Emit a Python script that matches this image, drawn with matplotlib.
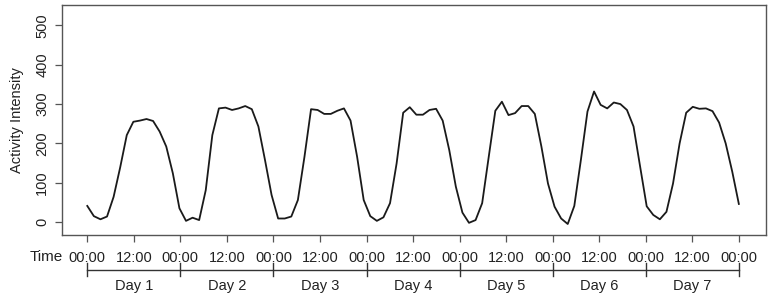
import numpy as np
import matplotlib
matplotlib.use("Agg")
import matplotlib.pyplot as plt

plt.rcParams['font.family'] = ['Liberation Sans', 'DejaVu Sans']

# Activity intensity, 100 samples spread evenly over 7 days
activity = [41, 15, 7, 14, 64, 139, 221, 255, 258, 262, 257, 230, 192, 124,
            35, 3, 11, 5, 81, 221, 289, 291, 285, 289, 295, 287, 243, 158, 69,
            9, 9, 14, 56, 166, 287, 285, 275, 275, 283, 289, 258, 166, 56,
            15, 3, 12, 48, 149, 278, 292, 273, 273, 285, 288, 258, 183, 90,
            24, -2, 5, 48, 166, 283, 306, 272, 277, 295, 295, 275, 192, 98,
            39, 9, -5, 41, 158, 281, 332, 298, 289, 304, 300, 285, 243, 141,
            40, 18, 7, 26, 98, 200, 278, 293, 288, 289, 282, 253, 200, 128, 46]
day_labels = ["Day 1", "Day 2", "Day 3", "Day 4", "Day 5", "Day 6", "Day 7"]
hour_ticks = list(range(0, 169, 12))
hour_labels = ["00:00" if h % 24 == 0 else "12:00" for h in hour_ticks]
y_ticks = [0, 100, 200, 300, 400, 500]

n_days = len(day_labels)
hours = np.linspace(0, 24 * n_days, len(activity))

fig = plt.figure(figsize=(7.71, 2.99), dpi=100)
ax = fig.add_axes([0.080, 0.214, 0.913, 0.768])

ax.plot(hours, activity, color='#1a1a1a', lw=1.3)

ax.set_xlim(-6.6, 174.9)
ax.set_ylim(-33, 551)

box_col = '#555555'
for s in ax.spines.values():
    s.set_color(box_col)
    s.set_linewidth(1.0)

ax.set_yticks(y_ticks)
ax.set_yticklabels([str(v) for v in y_ticks], rotation=90, va='center')
ax.set_xticks(hour_ticks)
ax.set_xticklabels(hour_labels)
ax.tick_params(axis='both', direction='out', length=5, width=0.9,
               color=box_col, labelsize=10.5, labelcolor='#222222')
ax.tick_params(axis='x', pad=6.5)
ax.tick_params(axis='y', pad=4)
ax.set_ylabel("Activity Intensity", fontsize=10.5, color='#222222', labelpad=8)

fig.text(46 / 771, 1 - 257 / 299, "Time", ha='center', va='center',
         fontsize=11, color='#222222')

# second row: day brackets under the time axis
tr = ax.get_xaxis_transform()
y_line = -0.152
ax.plot([0, 24 * n_days], [y_line, y_line], transform=tr, color='#333333',
        lw=1.0, clip_on=False)
for d in range(n_days + 1):
    ax.plot([24 * d, 24 * d], [y_line + 0.028, y_line - 0.028], transform=tr,
            color='#333333', lw=1.0, clip_on=False)
for d, lab in enumerate(day_labels):
    ax.text(24 * d + 12, -0.224, lab, transform=tr, ha='center', va='center',
            fontsize=10.5, color='#222222')

fig.savefig("out.png", dpi=100)
